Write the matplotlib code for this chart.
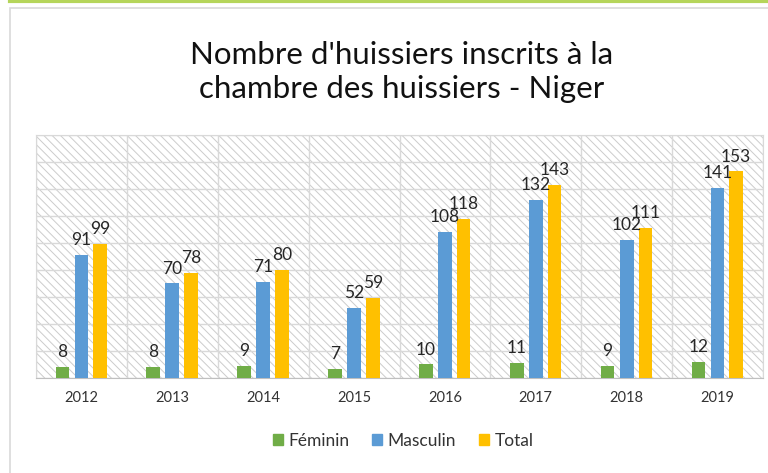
import matplotlib
matplotlib.use("Agg")
import matplotlib.pyplot as plt
from matplotlib.patches import Rectangle
from matplotlib.lines import Line2D
import numpy as np

years = ["2012", "2013", "2014", "2015", "2016", "2017", "2018", "2019"]
feminin = [8, 8, 9, 7, 10, 11, 9, 12]
masculin = [91, 70, 71, 52, 108, 132, 102, 141]
total = [99, 78, 80, 59, 118, 143, 111, 153]
series_names = ["Féminin", "Masculin", "Total"]
colors = ["#70AD47", "#5B9BD5", "#FFC000"]

plt.rcParams['font.family'] = ['Lato', 'DejaVu Sans']
plt.rcParams['hatch.linewidth'] = 0.7
plt.rcParams['hatch.color'] = '#CCCCCC'

fig = plt.figure(figsize=(7.68, 4.73), dpi=100)

# outer decoration
fig.add_artist(Line2D([10/768, 1], [1 - 1.5/473, 1 - 1.5/473], color="#B5D55A", lw=3))
fig.add_artist(Rectangle((10/768, -0.1), 1, 1 - 8/473 + 0.1, fill=False,
                         edgecolor="#D9D9D9", lw=1.2, transform=fig.transFigure))

ax = fig.add_axes([36/768, 1 - 378/473, (763 - 36)/768, (378 - 135)/473])
ax.set_xlim(-0.5, len(years) - 0.5)
ax.set_ylim(0, 180)

bg = Rectangle((0, 0), 1, 1, transform=ax.transAxes, facecolor="white",
               edgecolor="#CCCCCC", hatch="\\\\\\\\", lw=0, zorder=0)
ax.add_patch(bg)

x = np.arange(len(years))
w = 0.15
offs = [-0.21, 0.0, 0.205]
for vals, off, c, name in zip([feminin, masculin, total], offs, colors, series_names):
    ax.bar(x + off, vals, width=w, color=c, label=name, zorder=3)
    for xi, v in zip(x, vals):
        ax.annotate(str(v), (xi + off, v), xytext=(0, 5), textcoords="offset points",
                    ha="center", va="bottom", fontsize=12.5, color="#262626", zorder=4)

ax.set_yticks(np.arange(0, 181, 20))
ax.set_yticklabels([])
ax.tick_params(axis='y', length=0)
ax.set_xticks(x)
ax.set_xticklabels(years, fontsize=10.5, color="#333333")
ax.tick_params(axis='x', length=0, pad=9)
ax.set_xticks(np.arange(-0.5, len(years), 1), minor=True)
ax.tick_params(axis='x', which='minor', length=0)
ax.grid(axis='y', which='major', color="#D9D9D9", lw=1, zorder=1)
ax.grid(axis='x', which='minor', color="#D9D9D9", lw=1, zorder=1)
ax.grid(axis='x', which='major', visible=False)
ax.set_axisbelow(True)
for s in ax.spines.values():
    s.set_color("#D9D9D9")
ax.spines['bottom'].set_color("#BFBFBF")

fig.text(402/768, 1 - 72/473, "Nombre d'huissiers inscrits à la\nchambre des huissiers - Niger",
         ha="center", va="center", fontsize=22.5, color="#111111", linespacing=1.22)

handles = [Rectangle((0, 0), 1, 1, color=c) for c in colors]
fig.legend(handles, series_names, loc="center", bbox_to_anchor=(403/768, 1 - 441/473),
           ncol=3, frameon=False, fontsize=12.5, handlelength=0.6, handleheight=0.6,
           handletextpad=0.3, columnspacing=1.3, labelcolor="#333333")

fig.savefig("out.png", dpi=100)
